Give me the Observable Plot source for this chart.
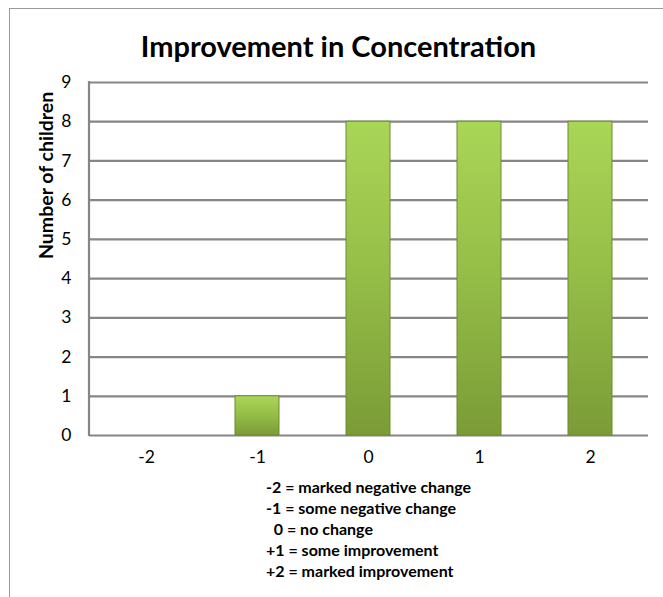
<!DOCTYPE html>
<html>
<head>
<meta charset="utf-8">
<script src="https://cdn.jsdelivr.net/npm/d3@7"></script>
<script src="https://cdn.jsdelivr.net/npm/@observablehq/plot@0.6"></script>
<style>
  body { margin: 0; background: #fff; }
  #wrap { position: relative; width: 663px; height: 597px; overflow: hidden; background: #fff;
          font-family: Lato, "Open Sans", "Noto Sans", sans-serif; color: #000; }
  #border { position: absolute; left: 9px; top: 8px; right: -10px; bottom: -10px;
            border-left: 1.5px solid #9a9a9a; border-top: 1.5px solid #9a9a9a; }
  #title { position: absolute; left: 0; width: 677px; top: 26px; text-align: center;
           font-weight: bold; font-size: 29px; line-height: 40px; }
  .leg { position: absolute; font-weight: bold; font-size: 16px; line-height: 20px; white-space: pre; }
  #chart { position: absolute; left: 0; top: 0; }
  #chart g[aria-label="y-axis tick label"] text,
  #chart g[aria-label="x-axis tick label"] text { font-size: 17.5px !important; }
</style>
</head>
<body>
<div id="wrap">
  <div id="border"></div>
  <div id="chart"></div>
  <div id="title"></div>
</div>
<script>
const titleText = "Improvement in Concentration";
const yLabel = "Number of children";
const categories = ["-2", "-1", "0", "1", "2"];
const counts = [0, 1, 8, 8, 8];
const yTicks = [0, 1, 2, 3, 4, 5, 6, 7, 8, 9];
const legendLines = [
  "-2 = marked negative change",
  "-1 = some negative change",
  "  0 = no change",
  "+1 = some improvement",
  "+2 = marked improvement"
];

const data = categories.map((c, i) => ({cat: c, n: counts[i]}));

const plot = Plot.plot({
  width: 663,
  height: 597,
  marginTop: 82,
  marginBottom: 162,
  marginLeft: 89,
  marginRight: 15,
  style: {fontFamily: "Lato, 'Open Sans', sans-serif", fontSize: "18px", color: "#000", background: "transparent", overflow: "visible"},
  x: {domain: categories, paddingInner: 0.6, paddingOuter: 0.3, label: null},
  y: {domain: [0, 9], label: null},
  marks: [
    Plot.gridY(yTicks, {stroke: "#868686", strokeOpacity: 1, strokeWidth: 2.2}),
    Plot.barY(data.filter(d => d.n > 0), {x: "cat", y: "n", fill: "url(#barGrad)", stroke: "#6e8c2c", strokeWidth: 1, inset: 0}),
    Plot.axisY(yTicks, {tickSize: 0, tickPadding: 18, fontSize: 18, label: null, fill: "#000"}),
    Plot.axisX({tickSize: 0, tickPadding: 15, fontSize: 18, label: null, fill: "#000"}),
    Plot.text([yLabel], {frameAnchor: "left", dx: -43, rotate: -90, fontWeight: "bold", fontSize: 19.5, fill: "#000"})
  ]
});

document.getElementById("chart").appendChild(plot);

const svg = d3.select(plot);
svg.selectAll('g[aria-label="y-axis tick label"], g[aria-label="x-axis tick label"]').attr("font-size", 17.5);

const defs = svg.insert("defs", ":first-child");
const grad = defs.append("linearGradient").attr("id", "barGrad")
  .attr("x1", 0).attr("y1", 0).attr("x2", 0).attr("y2", 1);
grad.append("stop").attr("offset", "0%").attr("stop-color", "#aad657");
grad.append("stop").attr("offset", "50%").attr("stop-color", "#94bd47");
grad.append("stop").attr("offset", "100%").attr("stop-color", "#7b9b37");

// left axis line drawn through the y scale
const ys = plot.scale("y");
svg.append("line")
  .attr("x1", 89).attr("x2", 89)
  .attr("y1", ys.apply(9) - 1).attr("y2", ys.apply(0) + 1)
  .attr("stroke", "#868686").attr("stroke-width", 2.2);

document.getElementById("title").textContent = titleText;

const wrap = document.getElementById("wrap");
legendLines.forEach((t, i) => {
  const d = document.createElement("div");
  d.className = "leg";
  d.style.left = "266px";
  d.style.top = (477 + i * 21) + "px";
  d.textContent = t;
  wrap.appendChild(d);
});
</script>
</body>
</html>
